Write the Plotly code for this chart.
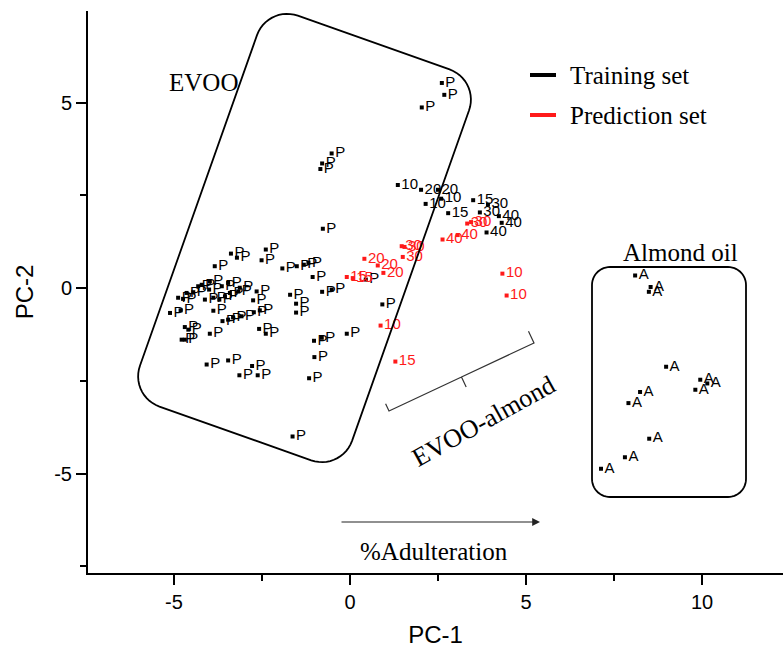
import numpy as np
import plotly.graph_objects as go

# ---- PCA scores ------------------------------------------------------------
# Pure extra-virgin olive oil samples (training set)
evoo_x = [2.61, 2.68, 2.04, -0.52, -0.79, -0.84, -0.77, -3.38, -3.21, -2.39,
          -2.51, -3.84, -1.92, -1.51, -1.31, -1.18, -1.06, -4.88, -4.74, -4.64,
          -4.45, -4.31, -4.21, -3.98, -4.00, -3.88, -4.12, -3.71, -3.64, -3.55,
          -3.41, -3.17, -2.75, -1.70, -1.53, -1.53, -0.79, -0.52, -5.11, -4.81,
          -3.88, -3.62, -3.46, -3.32, -3.08, -2.73, -2.56, -4.69, -4.59, -4.78,
          -4.69, -3.98, -2.58, -2.39, -1.02, -0.80, -0.09, 0.92, 0.45, -1.01,
          -1.16, -4.07, -3.46, -2.78, -3.14, -2.62, -1.63, -2.65, -3.46, -3.13]
evoo_y = [5.53, 5.21, 4.87, 3.63, 3.36, 3.21, 1.60, 0.93, 0.82, 1.04,
          0.75, 0.59, 0.53, 0.59, 0.63, 0.68, 0.30, -0.26, -0.29, -0.13,
          -0.11, 0.05, 0.09, 0.18, -0.04, -0.26, -0.31, -0.31, 0.05, -0.22,
          -0.13, -0.09, -0.33, -0.18, -0.42, -0.66, -0.10, -0.04, -0.67, -0.60,
          -0.61, -0.89, -0.85, -0.79, -0.76, -0.65, -0.60, -1.05, -1.12, -1.39,
          -1.39, -1.23, -1.10, -1.23, -1.42, -1.34, -1.23, -0.44, 0.23, -1.86,
          -2.43, -2.06, -1.95, -2.10, -2.35, -2.35, -4.00, -0.09, 0.14, 0.01]

# Pure almond oil samples (training set)
almond_x = [8.10, 8.54, 8.49, 8.98, 9.95, 10.15, 9.81, 8.24, 7.91, 8.50, 7.81, 7.13]
almond_y = [0.34, 0.03, -0.10, -2.12, -2.47, -2.57, -2.74, -2.80, -3.10, -4.06, -4.56, -4.87]

# EVOO-almond blends, training set (label = % adulteration)
mix_train_x = [1.36, 2.02, 2.50, 2.59, 2.15, 3.50, 2.79, 3.92, 3.69, 4.23, 4.31, 3.88]
mix_train_y = [2.78, 2.65, 2.65, 2.41, 2.27, 2.37, 2.02, 2.25, 2.04, 1.94, 1.76, 1.50]
mix_train_lbl = ["10", "20", "20", "10", "10", "15", "15", "30", "30", "40", "40", "40"]

# EVOO-almond blends, prediction set
pred_x = [3.33, 3.44, 3.06, 2.63, 1.47, 1.55, 1.50, 0.41, 0.79, 0.95,
          -0.09, 0.08, 4.33, 4.45, 0.87, 1.29]
pred_y = [1.74, 1.78, 1.43, 1.31, 1.13, 1.11, 0.84, 0.79, 0.61, 0.41,
          0.30, 0.27, 0.39, -0.20, -1.01, -1.98]
pred_lbl = ["30", "30", "40", "40", "30", "30", "30", "20", "20", "20",
            "15", "15", "10", "10", "10", "15"]

x_ticks = [-5, 0, 5, 10]
y_ticks = [-5, 0, 5]

# ---- canvas geometry -------------------------------------------------------
W, H = 783, 649
ML, MR, MT, MB = 88, 0, 11, 76
PW, PH = W - ML - MR, H - MT - MB
XR = [-7.44, 12.30]
YR = [-7.68, 7.47]


def px2x(px):
    return XR[0] + (px - ML) / PW * (XR[1] - XR[0])


def py2y(py):
    return YR[1] - (py - MT) / PH * (YR[1] - YR[0])


def path_from_px(points, close=False):
    s = ""
    for i, (px, py) in enumerate(points):
        s += ("M" if i == 0 else "L") + f"{px2x(px):.4f},{py2y(py):.4f} "
    return s + ("Z" if close else "")


def rotated_round_rect(u0, u1, v0, v1, r, theta_deg, n=14):
    th = np.radians(theta_deg)
    U = np.array([np.cos(th), np.sin(th)])
    V = np.array([-np.sin(th), np.cos(th)])
    centers = [((u0 + r, v0 + r), 180), ((u1 - r, v0 + r), 270),
               ((u1 - r, v1 - r), 0), ((u0 + r, v1 - r), 90)]
    pts = []
    for (cu, cv), a0 in centers:
        for a in np.linspace(a0, a0 + 90, n):
            u = cu + r * np.cos(np.radians(a))
            v = cv + r * np.sin(np.radians(a))
            p = u * U + v * V
            pts.append((p[0], p[1]))
    return pts


SANS = "Liberation Sans, Arial, sans-serif"
LABEL_FONT = dict(family=SANS, size=15)
SERIF = "Liberation Serif, Times New Roman, serif"
RED = "#ff1a1a"

fig = go.Figure()


def add_points(x, y, labels, color):
    fig.add_trace(go.Scatter(
        x=x, y=y, mode="markers+text", text=labels,
        textposition="middle right",
        textfont=dict(color=color, **LABEL_FONT),
        marker=dict(symbol="square", size=4, color=color),
        showlegend=False, cliponaxis=False,
    ))


add_points(evoo_x, evoo_y, ["P"] * len(evoo_x), "black")
add_points(almond_x, almond_y, ["A"] * len(almond_x), "black")
add_points(mix_train_x, mix_train_y, mix_train_lbl, "black")
add_points(pred_x, pred_y, pred_lbl, RED)

shapes = []
# EVOO group outline (tilted rounded box)
shapes.append(dict(type="path", xref="x", yref="y",
                   path=path_from_px(rotated_round_rect(254, 479, -84.6, 330, 32, 19.5), close=True),
                   line=dict(color="black", width=1.8)))
# Almond oil group outline
shapes.append(dict(type="path", xref="x", yref="y",
                   path=path_from_px(rotated_round_rect(592, 746, 267, 497, 18, 0), close=True),
                   line=dict(color="black", width=1.8)))

# Brace under the blends
S = np.array([389.0, 411.0])
E = np.array([534.0, 343.0])
d = (E - S) / np.linalg.norm(E - S)
n_up = np.array([d[1], -d[0]])
M = (S + E) / 2
brace = [S + 8 * n_up, S, M, M - 11 * n_up, M, E, E + 13 * n_up]
shapes.append(dict(type="path", xref="x", yref="y",
                   path=path_from_px([tuple(p) for p in brace]),
                   line=dict(color="#333333", width=1.2)))

# Legend keys
for py, col in [(75, "black"), (115, RED)]:
    shapes.append(dict(type="line", xref="x", yref="y",
                       x0=px2x(530), x1=px2x(556), y0=py2y(py), y1=py2y(py),
                       line=dict(color=col, width=4)))

annotations = [
    dict(x=px2x(568), y=py2y(75), text="Training set", showarrow=False,
         xanchor="left", yanchor="middle", font=dict(family=SERIF, size=25, color="black")),
    dict(x=px2x(568), y=py2y(115), text="Prediction set", showarrow=False,
         xanchor="left", yanchor="middle", font=dict(family=SERIF, size=25, color="black")),
    dict(x=px2x(203), y=py2y(82), text="EVOO", showarrow=False,
         font=dict(family=SERIF, size=25, color="black")),
    dict(x=px2x(680), y=py2y(252), text="Almond oil", showarrow=False,
         font=dict(family=SERIF, size=25, color="black")),
    dict(x=px2x(483), y=py2y(421), text="EVOO-almond", showarrow=False, textangle=-29,
         font=dict(family=SERIF, size=26, color="black")),
    dict(x=px2x(434), y=py2y(551), text="%Adulteration", showarrow=False,
         font=dict(family=SERIF, size=25, color="black")),
    dict(x=px2x(540), y=py2y(522), ax=px2x(340), ay=py2y(522),
         xref="x", yref="y", axref="x", ayref="y", text="", showarrow=True,
         arrowhead=2, arrowsize=1.3, arrowwidth=1.2, arrowcolor="#222222"),
]

axis_common = dict(showline=True, linewidth=2, linecolor="black", mirror=False,
                   ticks="outside", ticklen=10, tickwidth=2, tickcolor="black",
                   showgrid=False, zeroline=False,
                   tickfont=dict(family=SANS, size=20, color="black"),
                   minor=dict(ticks="outside", ticklen=6, tickwidth=2, tickcolor="black",
                              dtick=2.5, tick0=0, showgrid=False))

fig.update_layout(
    width=W, height=H,
    margin=dict(l=ML, r=MR, t=MT, b=MB, autoexpand=False),
    plot_bgcolor="white", paper_bgcolor="white",
    shapes=shapes, annotations=annotations,
    xaxis=dict(range=XR, tickvals=x_ticks, ticktext=[str(v) for v in x_ticks],
               title=dict(text="PC-1", font=dict(family=SANS, size=24, color="black"),
                          standoff=14),
               automargin=False, **axis_common),
    yaxis=dict(range=YR, tickvals=y_ticks, ticktext=[str(v) for v in y_ticks],
               title=dict(text="PC-2", font=dict(family=SANS, size=24, color="black"),
                          standoff=14),
               automargin=False, **axis_common),
)

fig.write_html("out.html")
